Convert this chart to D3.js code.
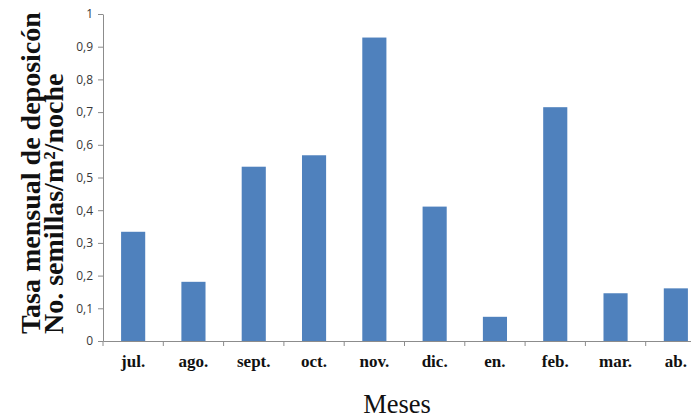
<!DOCTYPE html>
<html>
<head>
<meta charset="utf-8">
<script src="https://cdn.jsdelivr.net/npm/d3@7"></script>
<style>
  html, body { margin: 0; padding: 0; background: #fff; }
  svg { display: block; }
</style>
</head>
<body>
<svg id="chart" width="691" height="418"></svg>
<script>
const months = ["jul.", "ago.", "sept.", "oct.", "nov.", "dic.", "en.", "feb.", "mar.", "ab."];
const rates = [0.334, 0.181, 0.533, 0.568, 0.928, 0.411, 0.074, 0.715, 0.146, 0.161];
const yTicks = [0, 0.1, 0.2, 0.3, 0.4, 0.5, 0.6, 0.7, 0.8, 0.9, 1];
const yTitle1 = "Tasa mensual de deposicón";
const yTitle2 = "No. semillas/m²/noche";
const xTitle = "Meses";

(function () {
const svg = d3.select("#chart");
const pL = 103, pR = 706, pT = 14, pB = 341;

const x = d3.scaleBand().domain(months).range([pL, pR]).paddingInner(0.6).paddingOuter(0.3);
const y = d3.scaleLinear().domain([0, 1]).range([pB, pT]);

const axisColor = "#8c8c8c";

// bars
svg.append("g").selectAll("rect").data(months).join("rect")
  .attr("x", d => x(d))
  .attr("y", (d, i) => y(rates[i]))
  .attr("width", x.bandwidth())
  .attr("height", (d, i) => y(0) - y(rates[i]))
  .attr("fill", "#4F81BD");

// y axis
const fmt = d => (d === 0 || d === 1) ? String(d) : d.toFixed(1).replace(".", ",");
const yAxis = svg.append("g").attr("transform", `translate(${pL},0)`)
  .call(d3.axisLeft(y).tickValues(yTicks).tickFormat(fmt).tickSize(5).tickSizeOuter(0).tickPadding(5));
yAxis.select(".domain").attr("stroke", axisColor);
yAxis.selectAll(".tick line").attr("stroke", axisColor);
yAxis.selectAll(".tick text").attr("fill", "#383838")
  .style("font-family", "'Open Sans', 'Liberation Sans', sans-serif").style("font-size", "12px");

// x axis
const xAxis = svg.append("g").attr("transform", `translate(0,${pB})`)
  .call(d3.axisBottom(x).tickSize(0).tickSizeOuter(0).tickPadding(14));
xAxis.select(".domain").attr("stroke", axisColor);
xAxis.selectAll(".tick text").attr("fill", "#111")
  .style("font-family", "'Liberation Serif', 'DejaVu Serif', serif")
  .style("font-weight", "bold").style("font-size", "17px");
// category boundary tick marks
const bounds = d3.range(months.length + 1).map(i => x.range()[0] + i * x.step());
xAxis.selectAll("line.bound").data(bounds).join("line")
  .attr("class", "bound")
  .attr("x1", d => d).attr("x2", d => d)
  .attr("y1", 0).attr("y2", 5)
  .attr("stroke", axisColor);

// y title (two lines, rotated, start-anchored at bottom)
const yt = svg.append("g").attr("transform", "translate(0,334) rotate(-90)")
  .style("font-family", "'Liberation Serif', 'DejaVu Serif', serif")
  .style("font-weight", "bold").attr("fill", "#111");
const t1 = yt.append("text").attr("x", 0).attr("y", 40).style("font-size", "25px").text(yTitle1);
const t2 = yt.append("text").attr("x", 0).attr("y", 63).style("font-size", "25px").text(yTitle2);
const len = t1.node().getComputedTextLength();
const fs = 25 * 322 / len;
t1.style("font-size", fs + "px");
t2.style("font-size", fs + "px");

// x title
svg.append("text").attr("x", 397).attr("y", 413).attr("text-anchor", "middle")
  .style("font-family", "'Liberation Serif', 'DejaVu Serif', serif")
  .style("font-size", "26.5px").attr("fill", "#111").text(xTitle);
})();
</script>
</body>
</html>
